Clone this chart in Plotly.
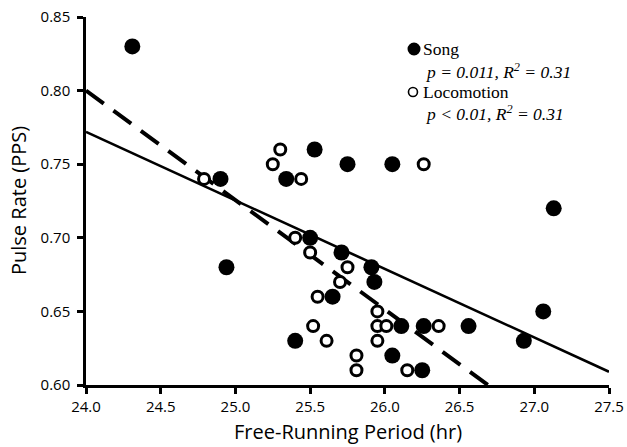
import plotly.graph_objects as go

# Song (filled circles)
song_x = [24.31, 24.90, 24.94, 25.34, 25.53, 25.75, 26.05, 25.50, 25.71, 25.91, 25.93,
          25.65, 26.11, 26.26, 26.56, 25.40, 26.05, 26.25, 26.93, 27.06, 27.13]
song_y = [0.83, 0.74, 0.68, 0.74, 0.76, 0.75, 0.75, 0.70, 0.69, 0.68, 0.67,
          0.66, 0.64, 0.64, 0.64, 0.63, 0.62, 0.61, 0.63, 0.65, 0.72]

# Locomotion (open circles)
loco_x = [24.79, 25.30, 25.25, 25.44, 26.26, 25.40, 25.50, 25.75, 25.70, 25.55,
          25.95, 25.52, 25.95, 26.01, 26.36, 25.61, 25.95, 25.81, 25.81, 26.15]
loco_y = [0.74, 0.76, 0.75, 0.74, 0.75, 0.70, 0.69, 0.68, 0.67, 0.66,
          0.65, 0.64, 0.64, 0.64, 0.64, 0.63, 0.63, 0.62, 0.61, 0.61]

# Regression lines (endpoints)
song_fit_x = [24.0, 27.5]
song_fit_y = [0.772, 0.609]
loco_fit_x = [24.0, 26.69]
loco_fit_y = [0.800, 0.600]

x_ticks = [24.0, 24.5, 25.0, 25.5, 26.0, 26.5, 27.0, 27.5]
y_ticks = [0.60, 0.65, 0.70, 0.75, 0.80, 0.85]

fig = go.Figure()

fig.add_trace(go.Scatter(x=song_fit_x, y=song_fit_y, mode="lines",
                         line=dict(color="black", width=2.6), showlegend=False, hoverinfo="skip"))
fig.add_trace(go.Scatter(x=loco_fit_x, y=loco_fit_y, mode="lines",
                         line=dict(color="black", width=4, dash="22px,12px"), showlegend=False,
                         hoverinfo="skip"))
fig.add_trace(go.Scatter(x=song_x, y=song_y, mode="markers", name="Song",
                         marker=dict(symbol="circle", size=16, color="black", line=dict(width=0)),
                         showlegend=False))
fig.add_trace(go.Scatter(x=loco_x, y=loco_y, mode="markers", name="Locomotion",
                         marker=dict(symbol="circle", size=11, color="white",
                                     line=dict(color="black", width=3)),
                         showlegend=False))

tick_font = dict(family="Open Sans, Arial, sans-serif", size=15, color="black")

fig.update_xaxes(range=[24.0, 27.5], tickvals=x_ticks, ticktext=[f"{v:.1f}" for v in x_ticks],
                 showline=True, linecolor="black", linewidth=2.5, ticks="outside",
                 ticklen=6, tickwidth=2.5, tickcolor="black", showgrid=False, zeroline=False,
                 tickfont=tick_font, automargin=False, ticklabeloverflow="allow")
fig.update_yaxes(range=[0.60, 0.85], tickvals=y_ticks, ticktext=[f"{v:.2f}" for v in y_ticks],
                 showline=True, linecolor="black", linewidth=2.5, ticks="outside",
                 ticklen=6, tickwidth=2.5, tickcolor="black", showgrid=False, zeroline=False,
                 tickfont=tick_font, ticklabelstandoff=4, automargin=False,
                 ticklabeloverflow="allow")

serif = dict(family="Liberation Serif, Times New Roman, serif", size=17.5, color="black")
title_font = dict(family="Open Sans, Arial, sans-serif", size=20, color="black")

annotations = [
    dict(text="Free-Running Period (hr)", x=0.5, y=-0.127, xref="paper", yref="paper",
         xanchor="center", yanchor="middle", showarrow=False, font=title_font),
    dict(text="Pulse Rate (PPS)", x=-0.130, y=0.5, xref="paper", yref="paper",
         xanchor="center", yanchor="middle", textangle=-90, showarrow=False, font=title_font),
    dict(text="Song", x=0.640, y=0.913, xref="paper", yref="paper",
         xanchor="left", yanchor="middle", showarrow=False, font=serif),
    dict(text="<i>p = 0.011, R<sup>2</sup> = 0.31</i>", x=0.645, y=0.8533, xref="paper", yref="paper",
         xanchor="left", yanchor="middle", showarrow=False, font=serif),
    dict(text="Locomotion", x=0.640, y=0.7962, xref="paper", yref="paper",
         xanchor="left", yanchor="middle", showarrow=False, font=serif),
    dict(text="<i>p &lt; 0.01, R<sup>2</sup> = 0.31</i>", x=0.645, y=0.7391, xref="paper", yref="paper",
         xanchor="left", yanchor="middle", showarrow=False, font=serif),
]

shapes = [
    dict(type="circle", xref="paper", yref="paper", xsizemode="pixel", ysizemode="pixel",
         xanchor=0.6272, yanchor=0.913, x0=-6.5, x1=6.5, y0=-6.5, y1=6.5,
         fillcolor="black", line=dict(width=0)),
    dict(type="circle", xref="paper", yref="paper", xsizemode="pixel", ysizemode="pixel",
         xanchor=0.6252, yanchor=0.7962, x0=-4.5, x1=4.5, y0=-4.5, y1=4.5,
         fillcolor="white", line=dict(color="black", width=1.6)),
]

fig.update_layout(width=627, height=447, margin=dict(l=86, r=18, t=17, b=62, autoexpand=False),
                  plot_bgcolor="white", paper_bgcolor="white",
                  annotations=annotations, shapes=shapes, showlegend=False)

# remove the browser's default 8px body margin so the figure sits at the window origin
fig.write_html("out.html", config={"displayModeBar": False},
               post_script="document.body.style.margin='0px';document.body.style.overflow='hidden';")
